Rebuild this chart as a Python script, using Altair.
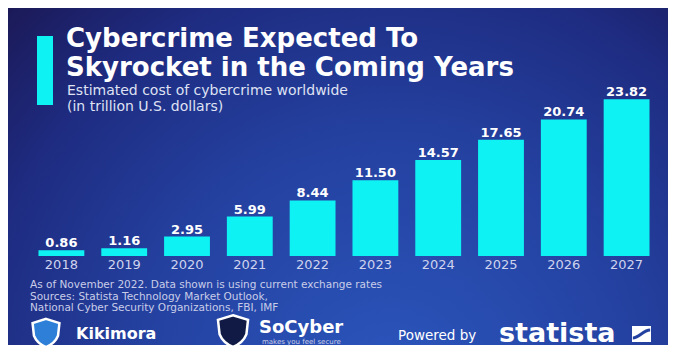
import altair as alt
import pandas as pd

# ---- data ----
YEARS = ["2018", "2019", "2020", "2021", "2022", "2023", "2024", "2025", "2026", "2027"]
VALUES = [0.86, 1.16, 2.95, 5.99, 8.44, 11.50, 14.57, 17.65, 20.74, 23.82]

TITLE_LINES = ["Cybercrime Expected To", "Skyrocket in the Coming Years"]
SUBTITLE_LINES = ["Estimated cost of cybercrime worldwide", "(in trillion U.S. dollars)"]
FOOTER_LINES = [
    "As of November 2022. Data shown is using current exchange rates",
    "Sources: Statista Technology Market Outlook,",
    "National Cyber Security Organizations, FBI, IMF",
]
BRAND_1 = "Kikimora"
BRAND_2 = "SoCyber"
BRAND_2_TAG = "makes you feel secure"
POWERED = "Powered by"
STATISTA = "statista"

FONT = "DejaVu Sans"
CYAN = "#0ff2f4"
W, H = 677, 349

df = pd.DataFrame({"year": YEARS, "value": VALUES})
one = alt.Data(values=[{"k": 1}])

bg_grad = alt.RadialGradient(
    gradient="radial",
    x1=0.58, y1=0.82, r1=0.0,
    x2=0.58, y2=0.82, r2=0.85,
    stops=[
        alt.GradientStop(color="#2b56bd", offset=0.0),
        alt.GradientStop(color="#2441a0", offset=0.45),
        alt.GradientStop(color="#1e2b80", offset=0.75),
        alt.GradientStop(color="#1b1650", offset=1.0),
    ],
)

background = alt.Chart(one).mark_rect(fill=bg_grad).encode(
    x=alt.value(8), x2=alt.value(668), y=alt.value(8), y2=alt.value(345)
)

accent = alt.Chart(one).mark_rect(fill=CYAN).encode(
    x=alt.value(37), x2=alt.value(53), y=alt.value(36), y2=alt.value(105)
)

title = alt.Chart(one).mark_text(
    text=TITLE_LINES, align="left", baseline="alphabetic", font=FONT,
    fontSize=26, fontWeight="bold", color="white", lineHeight=29,
).encode(x=alt.value(66), y=alt.value(47))

subtitle = alt.Chart(one).mark_text(
    text=SUBTITLE_LINES, align="left", baseline="alphabetic", font=FONT,
    fontSize=14, color="#dfe2f3", lineHeight=16,
).encode(x=alt.value(67), y=alt.value(95))

xscale = alt.Scale(range=[30, 658], paddingInner=0.27, paddingOuter=0.135)
yscale = alt.Scale(domain=[0, 24], range=[256, 98])

bars = alt.Chart(df).mark_bar(color=CYAN).encode(
    x=alt.X("year:O", scale=xscale, axis=None),
    y=alt.Y("value:Q", scale=yscale, axis=None),
)

value_labels = alt.Chart(df).mark_text(
    baseline="alphabetic", dy=-3, font=FONT, fontSize=13, fontWeight="bold", color="white"
).encode(
    x=alt.X("year:O", scale=xscale, axis=None),
    y=alt.Y("value:Q", scale=yscale, axis=None),
    text=alt.Text("value:Q", format=".2f"),
)

year_labels = alt.Chart(df).mark_text(
    baseline="alphabetic", font=FONT, fontSize=13, color="#cfd3ee"
).encode(
    x=alt.X("year:O", scale=xscale, axis=None),
    y=alt.value(269),
    text="year:N",
)

footer = alt.Chart(one).mark_text(
    text=FOOTER_LINES, align="left", baseline="alphabetic", font=FONT,
    fontSize=10.5, color="#c9cde8", lineHeight=11.5,
).encode(x=alt.value(30), y=alt.value(288))

SHIELD = "M0,-1 L0.95,-0.7 L0.85,0.2 C0.65,0.7 0.25,0.9 0,1 C-0.25,0.9 -0.65,0.7 -0.85,0.2 L-0.95,-0.7 Z"

kiki_shield = alt.Chart(one).mark_point(
    shape=SHIELD, filled=True, fill="#2d7fd8", stroke="white", strokeWidth=2.5,
    size=800, opacity=1,
).encode(x=alt.value(46), y=alt.value(333))

kiki_text = alt.Chart(one).mark_text(
    text=BRAND_1, align="left", baseline="alphabetic", font=FONT,
    fontSize=16, fontWeight="bold", color="white",
).encode(x=alt.value(76), y=alt.value(339))

so_shield = alt.Chart(one).mark_point(
    shape=SHIELD, filled=True, fill="#101a44", stroke="white", strokeWidth=2.5,
    size=1000, opacity=1,
).encode(x=alt.value(233), y=alt.value(331))

so_text = alt.Chart(one).mark_text(
    text=BRAND_2, align="left", baseline="alphabetic", font=FONT,
    fontSize=18, fontWeight="bold", color="white",
).encode(x=alt.value(259), y=alt.value(333))

so_tag = alt.Chart(one).mark_text(
    text=BRAND_2_TAG, align="left", baseline="alphabetic", font=FONT,
    fontSize=7, color="#c9cde8",
).encode(x=alt.value(262), y=alt.value(344))

powered = alt.Chart(one).mark_text(
    text=POWERED, align="left", baseline="alphabetic", font=FONT,
    fontSize=13.5, color="white",
).encode(x=alt.value(398), y=alt.value(340))

statista = alt.Chart(one).mark_text(
    text=STATISTA, align="left", baseline="alphabetic", font=FONT,
    fontSize=27, fontWeight="bold", color="white",
).encode(x=alt.value(499), y=alt.value(342))

stat_icon = alt.Chart(one).mark_rect(fill="white").encode(
    x=alt.value(632), x2=alt.value(651), y=alt.value(326), y2=alt.value(342)
)

stat_wave = alt.Chart(one).mark_point(
    shape="M-1,0.45 C-0.3,0.45 0.2,-0.45 1,-0.45", filled=False, stroke="#2441a0",
    strokeWidth=3, size=300, opacity=1,
).encode(x=alt.value(641.5), y=alt.value(334))

chart = alt.layer(
    background, accent, title, subtitle, bars, value_labels, year_labels, footer,
    kiki_shield, kiki_text, so_shield, so_text, so_tag, powered, statista,
    stat_icon, stat_wave,
).properties(
    width=W, height=H, autosize=alt.AutoSizeParams(type="none"), padding=0,
    background="white",
).configure_view(stroke=None)

chart.save("out.html", embed_options={"renderer": "svg", "actions": False})
